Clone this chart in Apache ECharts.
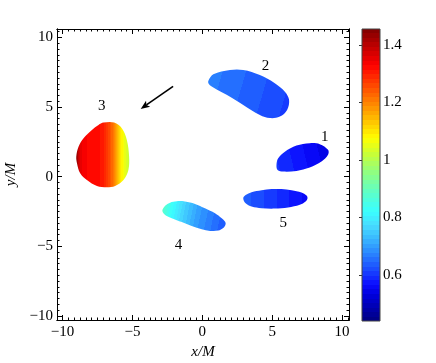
<!DOCTYPE html>
<html><head><meta charset="utf-8">
<script src="https://cdn.jsdelivr.net/npm/echarts@6/dist/echarts.min.js"></script>
<style>html,body{margin:0;padding:0;background:#fff}#c{width:436px;height:363px}</style>
</head><body><div id="c"></div>
<script>
// ---- axes ----
const xRange = [-10.4, 10.5];
const yRange = [-10.3, 10.6];
const majorTicks = [-10, -5, 0, 5, 10];
const minorPerMajor = 12;
const colorRange = [0.44, 1.455];
const colorTicks = [0.6, 0.8, 1, 1.2, 1.4];

// ---- blob outlines (x/M, y/M) ----
const blob1 = [[5.31,0.84],[5.43,1.32],[5.91,1.79],[6.74,2.23],[7.69,2.40],[8.41,2.33],[9.00,1.92],[9.00,1.56],[8.53,1.08],[7.69,0.65],[6.74,0.41],[5.79,0.36],[5.39,0.48]];
const blob2 = [[0.43,6.87],[0.79,7.35],[1.98,7.66],[2.93,7.66],[4.12,7.30],[5.19,6.71],[5.91,6.10],[6.21,5.51],[6.07,4.79],[5.55,4.31],[4.84,4.20],[4.12,4.43],[2.93,5.15],[1.74,5.87],[0.79,6.40],[0.48,6.64]];
const blob3 = [[-7.07,3.88],[-6.31,3.88],[-5.76,3.47],[-5.40,2.63],[-5.24,1.44],[-5.29,0.48],[-5.64,-0.24],[-6.24,-0.67],[-6.83,-0.76],[-7.54,-0.67],[-8.26,-0.24],[-8.74,0.24],[-8.97,0.96],[-9.02,1.44],[-8.86,2.15],[-8.50,2.76],[-7.90,3.35],[-7.43,3.71]];
const blob4 = [[-2.86,-2.46],[-2.66,-2.10],[-2.31,-1.87],[-1.83,-1.77],[-1.24,-1.79],[-0.52,-1.96],[0.19,-2.27],[0.91,-2.63],[1.39,-2.99],[1.62,-3.23],[1.67,-3.40],[1.50,-3.70],[1.14,-3.88],[0.55,-3.90],[-0.04,-3.78],[-0.76,-3.54],[-1.47,-3.27],[-2.19,-2.99],[-2.66,-2.75]];
const blob5 = [[2.93,-1.55],[3.10,-1.32],[3.53,-1.12],[4.24,-0.98],[4.96,-0.90],[5.67,-0.90],[6.39,-0.98],[7.10,-1.15],[7.46,-1.36],[7.53,-1.55],[7.39,-1.79],[6.98,-2.03],[6.14,-2.22],[5.19,-2.30],[4.24,-2.27],[3.53,-2.15],[3.10,-1.91]];

// ---- colour value along each blob (gradient from -> to, values at fractions) ----
const grad1From = [5.31,1.0],  grad1To = [9.0,1.9];
const grad1Pos = [0, 1],       grad1Val = [0.60, 0.54];
const grad2From = [0.43,6.9],  grad2To = [6.21,5.2];
const grad2Pos = [0, 0.5, 1],  grad2Val = [0.67, 0.64, 0.61];
const grad3From = [-9.02,1.4], grad3To = [-5.24,1.4];
const grad3Pos = [0, 0.04, 0.1, 0.17, 0.49, 0.62, 0.755, 0.83, 1];
const grad3Val = [1.44, 1.38, 1.345, 1.33, 1.31, 1.26, 1.17, 1.10, 1.01];
const grad4From = [-2.86,-2.46], grad4To = [1.67,-3.40];
const grad4Pos = [0, 0.15, 0.32, 0.55, 0.8, 1];
const grad4Val = [0.88, 0.82, 0.76, 0.70, 0.66, 0.63];
const grad5From = [2.93,-1.55], grad5To = [7.53,-1.55];
const grad5Pos = [0, 1],       grad5Val = [0.64, 0.56];

// ---- labels & arrow ----
const blobNames = ['1','2','3','4','5'];
const labelX = [8.76, 4.53, -7.19, -1.71, 5.79];
const labelY = [2.85, 7.97, 5.08, -4.90, -3.34];
const arrowFrom = [-2.09, 6.48];
const arrowTo = [-4.41, 4.86];

// ---- helpers ----
const blobs = [
  {outline: blob1, from: grad1From, to: grad1To, pos: grad1Pos, val: grad1Val},
  {outline: blob2, from: grad2From, to: grad2To, pos: grad2Pos, val: grad2Val},
  {outline: blob3, from: grad3From, to: grad3To, pos: grad3Pos, val: grad3Val},
  {outline: blob4, from: grad4From, to: grad4To, pos: grad4Pos, val: grad4Val},
  {outline: blob5, from: grad5From, to: grad5To, pos: grad5Pos, val: grad5Val}
];
const NLEV = 64;
function clamp01(a){ return Math.min(1, Math.max(0, a)); }
function levelOf(v){
  const t = clamp01((v - colorRange[0]) / (colorRange[1] - colorRange[0]));
  return Math.min(NLEV - 1, Math.floor(t * NLEV));
}
function levelColor(L){
  const t = (L + 0.5) / NLEV;
  let r = clamp01(1.5 - Math.abs(4*t - 3));
  let g = clamp01(1.5 - Math.abs(4*t - 2));
  let b = clamp01(1.5 - Math.abs(4*t - 1));
  // slight lightening of the blue/cyan part, as in the reference palette
  const w = 0.28 * clamp01(1 - Math.abs(t - 0.33) / 0.24);
  r = r + (1 - r) * w; g = g + (1 - g) * w; b = b + (1 - b) * w;
  return 'rgb(' + Math.round(r*255) + ',' + Math.round(g*255) + ',' + Math.round(b*255) + ')';
}
function interp(pos, val, f){
  if (f <= pos[0]) return val[0];
  for (let i = 1; i < pos.length; i++) {
    if (f <= pos[i]) {
      const a = (f - pos[i-1]) / (pos[i] - pos[i-1]);
      return val[i-1] + a * (val[i] - val[i-1]);
    }
  }
  return val[val.length - 1];
}
function buildStops(pos, val){
  const N = 300, stops = [];
  let prev = null;
  for (let i = 0; i <= N; i++) {
    const f = i / N;
    const L = levelOf(interp(pos, val, f));
    if (prev === null) stops.push({offset: 0, color: levelColor(L)});
    else if (L !== prev) {
      stops.push({offset: f, color: levelColor(prev)});
      stops.push({offset: f, color: levelColor(L)});
    }
    prev = L;
  }
  stops.push({offset: 1, color: levelColor(prev)});
  return stops;
}
const minorTicks = [];
for (let i = 0; i < majorTicks.length - 1; i++) {
  const step = (majorTicks[i+1] - majorTicks[i]) / minorPerMajor;
  for (let k = 1; k < minorPerMajor; k++) minorTicks.push(majorTicks[i] + k * step);
}
minorTicks.push(-10 - 5 / minorPerMajor, 10 + 5 / minorPerMajor);

const FONT = 'Liberation Serif';
const fmt = v => String(v).replace('-', '\u2212');

function xAx(pos, ticks, len, labels, name){
  return {
    type: 'value', gridIndex: 0, position: pos, min: xRange[0], max: xRange[1],
    axisLine: {show: true, onZero: false, lineStyle: {color: '#000', width: 1}},
    axisTick: {show: true, inside: true, length: len, customValues: ticks, lineStyle: {color: '#000', width: 1}},
    axisLabel: labels ? {show: true, customValues: majorTicks, formatter: fmt, margin: 5, color: '#000', fontFamily: FONT, fontSize: 15} : {show: false},
    splitLine: {show: false},
    name: name || '', nameLocation: 'middle', nameGap: 23,
    nameTextStyle: {fontFamily: FONT, fontStyle: 'italic', fontSize: 15, color: '#000'}
  };
}
function yAx(pos, ticks, len, labels, name){
  return {
    type: 'value', gridIndex: 0, position: pos, min: yRange[0], max: yRange[1],
    axisLine: {show: true, onZero: false, lineStyle: {color: '#000', width: 1}},
    axisTick: {show: true, inside: true, length: len, customValues: ticks, lineStyle: {color: '#000', width: 1}},
    axisLabel: labels ? {show: true, customValues: majorTicks, formatter: fmt, margin: 4, color: '#000', fontFamily: FONT, fontSize: 15} : {show: false},
    splitLine: {show: false},
    name: name || '', nameLocation: 'middle', nameGap: 31,
    nameTextStyle: {fontFamily: FONT, fontStyle: 'italic', fontSize: 15, color: '#000'}
  };
}

const chart = echarts.init(document.getElementById('c'), null, {renderer: 'canvas'});
const option = {
  animation: false,
  backgroundColor: '#fff',
  grid: [
    {left: 57, top: 29, width: 292, height: 291, containLabel: false, outerBoundsMode: 'none'},
    {left: 362, top: 29, width: 18, height: 292, containLabel: false, outerBoundsMode: 'none'}
  ],
  xAxis: [
    xAx('bottom', majorTicks, 5, true, 'x/M'),
    xAx('top', majorTicks, 5, false),
    xAx('bottom', minorTicks, 2.5, false),
    xAx('top', minorTicks, 2.5, false),
    {type: 'value', gridIndex: 1, min: 0, max: 1, show: false}
  ],
  yAxis: [
    yAx('left', majorTicks, 5, true, 'y/M'),
    yAx('right', majorTicks, 5, false),
    yAx('left', minorTicks, 2.5, false),
    yAx('right', minorTicks, 2.5, false),
    {
      type: 'value', gridIndex: 1, position: 'right', min: colorRange[0], max: colorRange[1],
      axisLine: {show: false},
      axisTick: {show: true, inside: true, length: 3, customValues: colorTicks, lineStyle: {color: '#333'}},
      axisLabel: {show: true, customValues: colorTicks, margin: 3, color: '#000', fontFamily: FONT, fontSize: 15},
      splitLine: {show: false}
    }
  ],
  series: [
    {
      type: 'custom', xAxisIndex: 0, yAxisIndex: 0, clip: true,
      data: blobNames.map((n, i) => [i]),
      renderItem: function (params, api) {
        const b = blobs[params.dataIndex];
        const pts = b.outline.map(p => api.coord(p));
        const g0 = api.coord(b.from), g1 = api.coord(b.to);
        return {
          type: 'polygon',
          shape: {points: pts, smooth: 0.35},
          style: {fill: new echarts.graphic.LinearGradient(g0[0], g0[1], g1[0], g1[1], buildStops(b.pos, b.val), true), stroke: null}
        };
      }
    },
    {
      type: 'custom', xAxisIndex: 0, yAxisIndex: 0,
      data: [[arrowFrom[0], arrowFrom[1], arrowTo[0], arrowTo[1]]],
      renderItem: function (params, api) {
        const p0 = api.coord([api.value(0), api.value(1)]);
        const p1 = api.coord([api.value(2), api.value(3)]);
        const dx = p1[0] - p0[0], dy = p1[1] - p0[1];
        const L = Math.sqrt(dx*dx + dy*dy), ux = dx / L, uy = dy / L;
        const hl = 9, hw = 3.6;
        const bx = p1[0] - ux * hl, by = p1[1] - uy * hl;
        return {
          type: 'group',
          children: [
            {type: 'line', shape: {x1: p0[0], y1: p0[1], x2: bx + ux * 2, y2: by + uy * 2}, style: {stroke: '#000', lineWidth: 1.6}},
            {type: 'polygon', shape: {points: [[p1[0], p1[1]], [bx - uy * hw, by + ux * hw], [bx + ux * 2, by + uy * 2], [bx + uy * hw, by - ux * hw]]}, style: {fill: '#000'}}
          ]
        };
      }
    },
    {
      type: 'scatter', xAxisIndex: 0, yAxisIndex: 0, symbolSize: 0,
      itemStyle: {opacity: 1},
      data: blobNames.map((n, i) => [labelX[i], labelY[i], n]),
      label: {show: true, position: 'inside', formatter: p => p.value[2], color: '#000', opacity: 1, textBorderWidth: 0, fontFamily: FONT, fontSize: 15}
    },
    {
      type: 'custom', xAxisIndex: 4, yAxisIndex: 4,
      data: [[0, colorRange[0], 1, colorRange[1]]],
      renderItem: function (params, api) {
        const a = api.coord([api.value(0), api.value(1)]);
        const b = api.coord([api.value(2), api.value(3)]);
        const stops = [];
        for (let L = 0; L < NLEV; L++) {
          stops.push({offset: L / NLEV, color: levelColor(L)});
          stops.push({offset: (L + 1) / NLEV, color: levelColor(L)});
        }
        return {
          type: 'rect',
          shape: {x: a[0], y: b[1], width: b[0] - a[0], height: a[1] - b[1]},
          style: {fill: new echarts.graphic.LinearGradient(0, 1, 0, 0, stops), stroke: '#444', lineWidth: 1}
        };
      }
    }
  ]
};
chart.setOption(option);
</script>
</body></html>
